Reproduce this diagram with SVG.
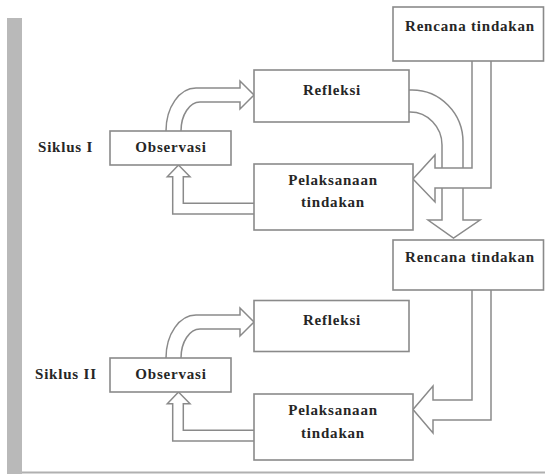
<svg xmlns="http://www.w3.org/2000/svg" width="545" height="474" viewBox="0 0 545 474">
<style>
.box{fill:#fff;stroke:#8a8a8a;stroke-width:1.6}
.arr{fill:#fff;stroke:#8a8a8a;stroke-width:1.5;stroke-linejoin:miter}
.t{font-family:"Liberation Serif","Times New Roman",serif;font-weight:bold;font-size:15px;letter-spacing:0.8px;fill:#262626}
.c{text-anchor:middle}
</style>
<rect width="545" height="474" fill="#fff"/>
<rect x="7" y="18" width="15" height="456" fill="#b9b9b9"/>
<rect x="22" y="471.5" width="523" height="2" fill="#b0b0b0"/>
<g id="connectors">
<path class="arr" d="M409,90 L412,90 A51,52 0 0 1 463,142 L463,220 L480,220 L453.5,238 L428,220 L442,220 L442,145 A32,33 0 0 0 410,112 L409,112"/>
<path class="arr" d="M472,61 L472,168 L435,168 L435,155 L413,179 L435,202 L435,188 L491,188 L491,61"/>
<path class="arr" d="M166,131 A30,43 0 0 1 196,88 L240,88 L240,81 L254,95 L240,109 L240,102 L200,102 A19,29 0 0 0 181,131"/>
<path class="arr" d="M254,214 L172.7,214 L172.7,176.7 L167.3,176.7 L178.5,165 L190,176.7 L183.3,176.7 L183.3,203.3 L254,203.3"/>
<path class="arr" d="M472,290 L472,400 L433,400 L433,386 L413,409.5 L433,433 L433,420 L491,420 L491,290"/>
<path class="arr" d="M166,358 A30,43 0 0 1 196,315 L240,315 L240,308 L254,322 L240,336 L240,329 L200,329 A19,29 0 0 0 181,358"/>
<path class="arr" d="M254,441 L172.7,441 L172.7,403.7 L167.3,403.7 L178.5,392 L190,403.7 L183.3,403.7 L183.3,430.3 L254,430.3"/>
</g>
<g id="rencana1"><rect class="box" x="393" y="7" width="150.5" height="54"/><text class="t c" x="470" y="31">Rencana tindakan</text></g>
<g id="refleksi1"><rect class="box" x="254" y="70" width="155" height="52"/><text class="t c" x="332" y="95">Refleksi</text></g>
<g id="siklus1"><text class="t" x="38" y="152">Siklus I</text></g>
<g id="observasi1"><rect class="box" x="110" y="131" width="121" height="34"/><text class="t c" x="171" y="152">Observasi</text></g>
<g id="pelaksanaan1"><rect class="box" x="254" y="164" width="159" height="66"/><text class="t c" x="333" y="184.5">Pelaksanaan</text><text class="t c" x="333" y="207">tindakan</text></g>
<g id="rencana2"><rect class="box" x="393" y="240" width="150.5" height="50"/><text class="t c" x="470" y="262">Rencana tindakan</text></g>
<g id="refleksi2"><rect class="box" x="254" y="300.5" width="155" height="51"/><text class="t c" x="332" y="325">Refleksi</text></g>
<g id="siklus2"><text class="t" x="35" y="379">Siklus II</text></g>
<g id="observasi2"><rect class="box" x="110" y="358" width="121" height="34"/><text class="t c" x="171" y="379">Observasi</text></g>
<g id="pelaksanaan2"><rect class="box" x="254" y="394" width="159" height="66"/><text class="t c" x="333" y="415">Pelaksanaan</text><text class="t c" x="333" y="438">tindakan</text></g>
</svg>
